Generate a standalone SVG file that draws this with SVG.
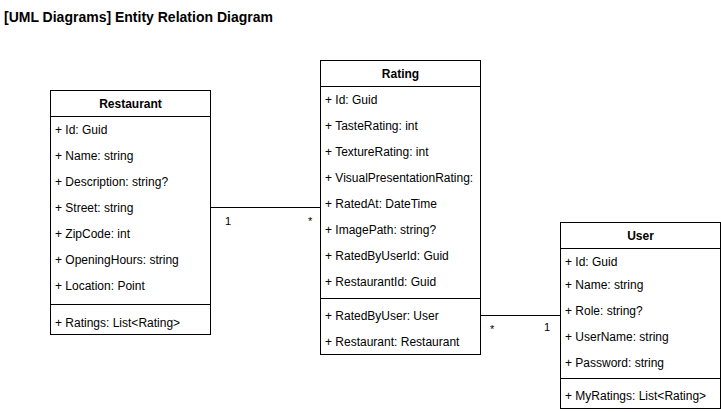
<svg xmlns="http://www.w3.org/2000/svg" width="721" height="412" viewBox="0 0 721 412">
<style>
.box{fill:#fff;stroke:#000;stroke-width:1}
.ln{stroke:#000;stroke-width:1;fill:none}
text{font-family:"Liberation Sans",Arial,sans-serif;font-size:12px;fill:#000}
.h{font-weight:bold;text-anchor:middle}
.t{font-weight:bold;font-size:14px}
.lbl{font-size:11px}
</style>
<rect width="721" height="412" fill="#fff"/>
<text class="t" x="4" y="22">[UML Diagrams] Entity Relation Diagram</text>
<g id="connectors">
<path class="ln" d="M210.5 207.5 H320.5"/>
<path class="ln" d="M480.5 315.5 H560.5"/>
<text class="lbl" x="225" y="225">1</text>
<text class="lbl" x="308" y="225">*</text>
<text class="lbl" x="490" y="333">*</text>
<text class="lbl" x="544" y="331">1</text>
</g>
<g id="restaurant">
<rect class="box" x="50.5" y="90.5" width="160" height="244"/>
<path class="ln" d="M50.5 116.5 H210.5 M50.5 304.5 H210.5"/>
<text class="h" x="130.5" y="108">Restaurant</text>
<text x="55" y="134">+ Id: Guid</text>
<text x="55" y="160">+ Name: string</text>
<text x="55" y="186">+ Description: string?</text>
<text x="55" y="212">+ Street: string</text>
<text x="55" y="238">+ ZipCode: int</text>
<text x="55" y="264">+ OpeningHours: string</text>
<text x="55" y="290">+ Location: Point</text>
<text x="55" y="327">+ Ratings: List&lt;Rating&gt;</text>
</g>
<g id="rating">
<rect class="box" x="320.5" y="60.5" width="160" height="294"/>
<path class="ln" d="M320.5 86.5 H480.5 M320.5 298.5 H480.5"/>
<text class="h" x="400.5" y="78">Rating</text>
<text x="325" y="104">+ Id: Guid</text>
<text x="325" y="130">+ TasteRating: int</text>
<text x="325" y="156">+ TextureRating: int</text>
<text x="325" y="182">+ VisualPresentationRating:</text>
<text x="325" y="208">+ RatedAt: DateTime</text>
<text x="325" y="234">+ ImagePath: string?</text>
<text x="325" y="260">+ RatedByUserId: Guid</text>
<text x="325" y="286">+ RestaurantId: Guid</text>
<text x="325" y="320">+ RatedByUser: User</text>
<text x="325" y="346">+ Restaurant: Restaurant</text>
</g>
<g id="user">
<rect class="box" x="560.5" y="222.5" width="160" height="186"/>
<path class="ln" d="M560.5 248.5 H720.5 M560.5 378.5 H720.5"/>
<text class="h" x="640.5" y="240">User</text>
<text x="565" y="266">+ Id: Guid</text>
<text x="565" y="289">+ Name: string</text>
<text x="565" y="315">+ Role: string?</text>
<text x="565" y="341">+ UserName: string</text>
<text x="565" y="367">+ Password: string</text>
<text x="565" y="400">+ MyRatings: List&lt;Rating&gt;</text>
</g>
</svg>
